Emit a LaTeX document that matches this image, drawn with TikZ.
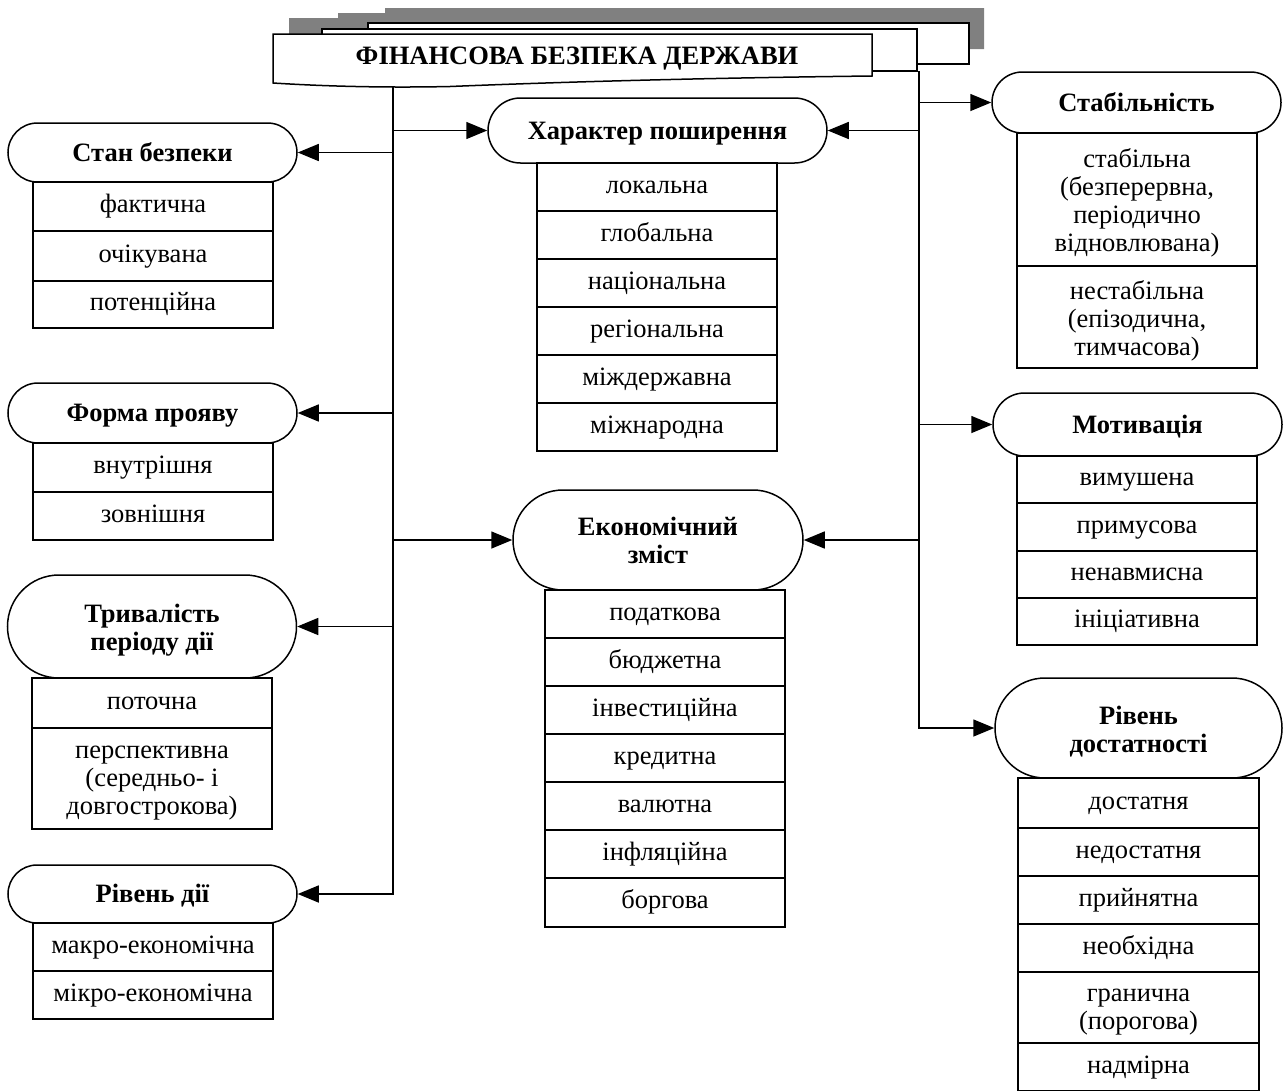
\documentclass[tikz,border=0pt]{standalone}
\usepackage{fontspec}
\setmainfont{Liberation Serif}
\usetikzlibrary{arrows.meta}
\definecolor{shadowgray}{RGB}{128,128,128}
\begin{document}
\begin{tikzpicture}[x=1pt,y=-1pt,line width=1.5pt,
  txt/.style={font=\fontsize{26.5}{28}\selectfont},
  btxt/.style={align=center, inner sep=0pt, font=\fontsize{26.5}{28}\selectfont\bfseries},
  head/.style 2 args={draw, fill=white, minimum width=#1, minimum height=#2,
    rounded corners=#2*0.5, inner sep=0pt, align=center,
    font=\fontsize{26.5}{28}\selectfont\bfseries},
  oneh/.style={text height=17.5pt, text depth=0pt},
  cell/.style={draw, fill=white, minimum width=240, inner sep=0pt, align=center, txt},
  one/.style={text height=12pt, text depth=0pt},
  arr/.style={-{Triangle[length=21pt,width=17pt]}},
]
\fill[white] (0,0) rectangle (1285,1090);
\useasboundingbox (0,0) rectangle (1285,1090);

% stacked title sheets with their shadow
\fill[shadowgray] (289,18) -- (338,18) -- (338,13) -- (385,13) -- (385,8)
  -- (984,8) -- (984,49) -- (289,49) -- cycle;
\draw[fill=white] (368,23) rectangle (969,64);
\draw[fill=white] (322,29) rectangle (917,71);
\draw[fill=white] (273,34) -- (872,34) -- (872,76)
  .. controls (700,78) and (560,82) .. (450,86.5)
  .. controls (380,88) and (320,86) .. (273,83) -- cycle;
\node[anchor=base, font=\fontsize{26.5}{28}\selectfont\bfseries] (title) at (577,64)
  {ФІНАНСОВА БЕЗПЕКА ДЕРЖАВИ};

% left column
\node[head={289}{59}, oneh] (stan) at (152.5,152.5) {Стан безпеки};
\node[cell, one, minimum height=49] (stan1) at (153,206.5) {фактична};
\node[cell, one, minimum height=50] (stan2) at (153,256) {очікувана};
\node[cell, one, minimum height=47] (stan3) at (153,304.5) {потенційна};

\node[head={289}{60}, oneh] (forma) at (152.5,413) {Форма прояву};
\node[cell, one, minimum height=49] (forma1) at (153,467.5) {внутрішня};
\node[cell, one, minimum height=48] (forma2) at (153,516) {зовнішня};

\node[head={289}{103}] (tryv) at (152,626.5) {};
\node[btxt] (tryvt) at (152,630.5) {Тривалість\\періоду дії};
\node[cell, one, minimum height=50] (tryv1) at (152,703) {поточна};
\node[cell, minimum height=101] (tryv2) at (152,778.5) {};
\node[txt, align=center, inner sep=0pt] (tryv2t) at (152,783.5)
  {перспективна\\(середньо- і\\довгострокова)};

\node[head={289}{58}, oneh] (dii) at (152.5,894) {Рівень дії};
\node[cell, one, minimum height=48] (dii1) at (153,947) {макро-економічна};
\node[cell, one, minimum height=48] (dii2) at (153,995) {мікро-економічна};

% centre column
\node[head={339}{65}, oneh] (khar) at (657.5,130.5) {Характер поширення};
\node[cell, one, minimum height=48] (khar1) at (657,187) {локальна};
\node[cell, one, minimum height=48] (khar2) at (657,235) {глобальна};
\node[cell, one, minimum height=48] (khar3) at (657,283) {національна};
\node[cell, one, minimum height=48] (khar4) at (657,331) {регіональна};
\node[cell, one, minimum height=48] (khar5) at (657,379) {міждержавна};
\node[cell, one, minimum height=48] (khar6) at (657,427) {міжнародна};

\node[head={290}{100}] (ekon) at (658,540) {Економічний\\зміст};
\node[cell, one, minimum height=48] (ekon1) at (665,614) {податкова};
\node[cell, one, minimum height=48] (ekon2) at (665,662) {бюджетна};
\node[cell, one, minimum height=48] (ekon3) at (665,710) {інвестиційна};
\node[cell, one, minimum height=48] (ekon4) at (665,758) {кредитна};
\node[cell, one, minimum height=48] (ekon5) at (665,806) {валютна};
\node[cell, one, minimum height=48] (ekon6) at (665,854) {інфляційна};
\node[cell, one, minimum height=49] (ekon7) at (665,902.5) {боргова};

% right column
\node[head={289}{61}, oneh] (stab) at (1136.5,102.5) {Стабільність};
\node[cell, minimum height=133] (stab1) at (1137,199.5) {};
\node[txt, align=center, inner sep=0pt] (stab1t) at (1137,203)
  {стабільна\\(безперервна,\\періодично\\відновлювана)};
\node[cell, minimum height=102] (stab2) at (1137,317) {};
\node[txt, align=center, inner sep=0pt] (stab2t) at (1137,320.5)
  {нестабільна\\(епізодична,\\тимчасова)};

\node[head={289}{63}, oneh] (motyv) at (1137.5,424.5) {Мотивація};
\node[cell, one, minimum height=47] (motyv1) at (1137,479.5) {вимушена};
\node[cell, one, minimum height=48] (motyv2) at (1137,527) {примусова};
\node[cell, one, minimum height=47] (motyv3) at (1137,574.5) {ненавмисна};
\node[cell, one, minimum height=47] (motyv4) at (1137,621.5) {ініціативна};

\node[head={287}{100}] (riv) at (1138.5,728) {};
\node[btxt] (rivt) at (1138.5,732) {Рівень\\достатності};
\node[cell, one, minimum width=241, minimum height=50] (riv1) at (1138.5,803) {достатня};
\node[cell, one, minimum width=241, minimum height=48] (riv2) at (1138.5,852) {недостатня};
\node[cell, one, minimum width=241, minimum height=48] (riv3) at (1138.5,900) {прийнятна};
\node[cell, one, minimum width=241, minimum height=48] (riv4) at (1138.5,948) {необхідна};
\node[cell, minimum width=241, minimum height=71] (riv5) at (1138.5,1007.5) {};
\node[txt, align=center, inner sep=0pt] (riv5t) at (1138.5,1012.5)
  {гранична\\(порогова)};
\node[cell, one, minimum width=241, minimum height=48] (riv6) at (1138.5,1067) {надмірна};

% trunks and branches
\coordinate (ltop) at (393,86);
\coordinate (rtop) at (919,71);
\draw[arr] (ltop) -- (ltop |- dii.east) -- (dii.east);
\draw[arr] (ltop |- khar.west) -- (khar.west);
\draw[arr] (ltop |- stan.east) -- (stan.east);
\draw[arr] (ltop |- forma.east) -- (forma.east);
\draw[arr] (ltop |- ekon.west) -- (ekon.west);
\draw[arr] (ltop |- tryv.east) -- (tryv.east);

\draw[arr] (rtop) -- (rtop |- riv.west) -- (riv.west);
\draw[arr] (rtop |- stab.west) -- (stab.west);
\draw[arr] (rtop |- khar.east) -- (khar.east);
\draw[arr] (rtop |- motyv.west) -- (motyv.west);
\draw[arr] (rtop |- ekon.east) -- (ekon.east);
\end{tikzpicture}
\end{document}
